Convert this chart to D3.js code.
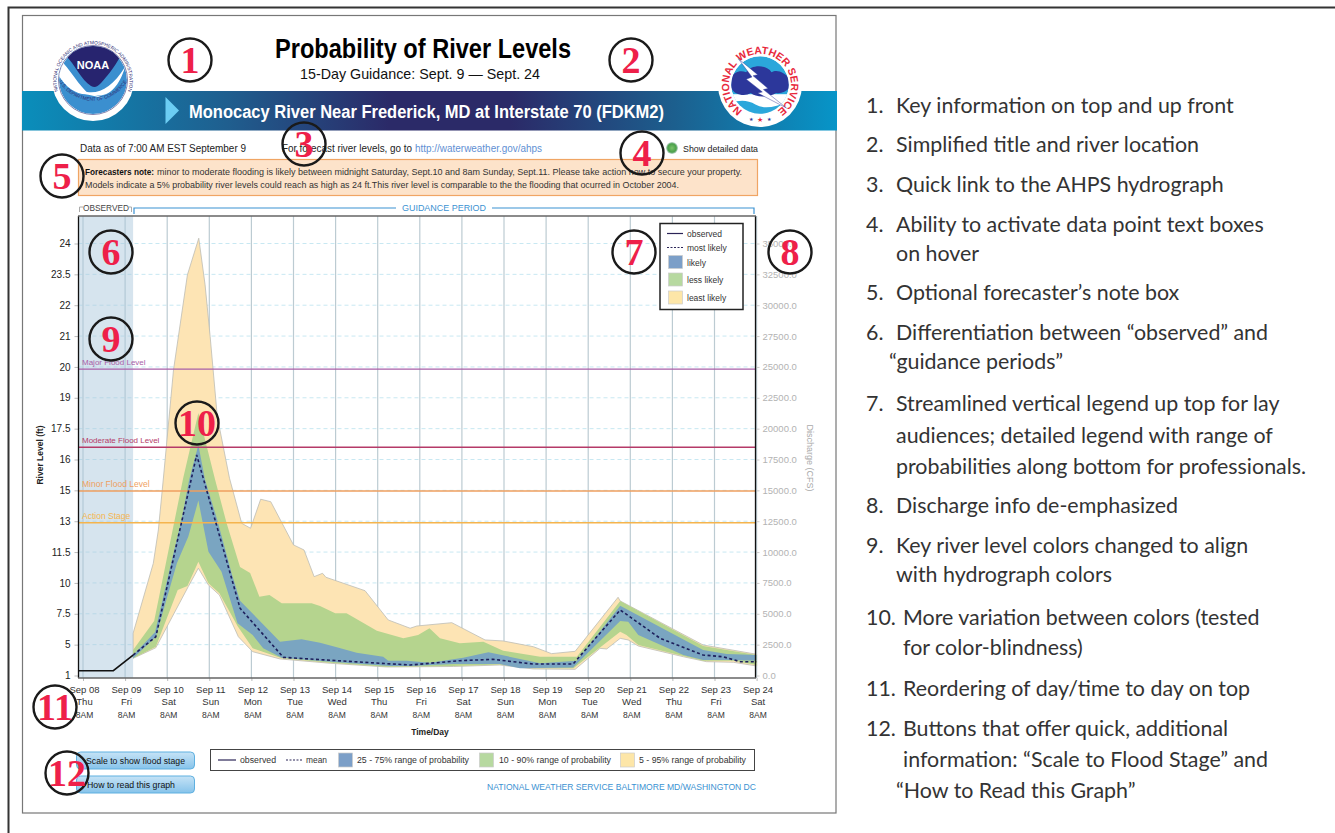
<!DOCTYPE html>
<html>
<head>
<meta charset="utf-8">
<script src="https://cdn.jsdelivr.net/npm/d3@7"></script>
<style>
  body { margin: 0; background: #fff; }
  text { font-family: "Liberation Sans", Arial, sans-serif; }
</style>
</head>
<body>
<div id="svg_div"></div>
<script>
// x values are days after Sep 08 8AM, y values are discharge in CFS
var dayLabels = ["Sep 08", "Sep 09", "Sep 10", "Sep 11", "Sep 12", "Sep 13", "Sep 14", "Sep 15", "Sep 16",
  "Sep 17", "Sep 18", "Sep 19", "Sep 20", "Sep 21", "Sep 22", "Sep 23", "Sep 24"];
var weekDays = ["Thu", "Fri", "Sat", "Sun", "Mon", "Tue", "Wed", "Thu", "Fri", "Sat", "Sun", "Mon", "Tue", "Wed", "Thu", "Fri", "Sat"];
var cfsTicks = [0, 2500, 5000, 7500, 10000, 12500, 15000, 17500, 20000, 22500, 25000, 27500, 30000, 32500, 35000];
var levelLabels = ["1", "5", "7.5", "10", "11.5", "13", "15", "16", "17.5", "19", "20", "21", "22", "23.5", "24"];

var observed = [[-0.11, 390], [0.72, 390], [1.19, 1660]];
var mean = [[1.19, 1660], [1.73, 3140], [2.70, 17870], [3.73, 5450], [4.76, 1470], [6.82, 1040], [7.77, 850],
  [8.95, 1200], [9.74, 1310], [10.69, 930], [11.64, 930], [12.76, 5310], [13.71, 3010], [14.73, 1660],
  [15.20, 1520], [15.61, 1120], [16, 1120]];
var p95 = [[1.19, 3420], [1.67, 9090], [1.79, 11790], [1.91, 16000], [2.15, 24760], [2.48, 32460], [2.75, 35430],
  [2.90, 31650], [3.02, 27460], [3.19, 20970], [3.48, 15980], [3.77, 12330], [3.98, 11930], [4.22, 14280],
  [4.46, 14080], [5.0, 10580], [5.25, 10170], [5.49, 8010], [5.69, 8280], [5.77, 7960], [6.70, 6870], [7.25, 4500],
  [7.77, 3830], [7.93, 4010], [8.76, 4280], [9.55, 2880], [9.98, 2800], [10.70, 2330], [11.13, 1770], [11.69, 1960],
  [12.71, 6340], [12.76, 6040], [14.73, 2470], [16, 1720]];
var p90 = [[1.19, 2070], [1.69, 4420], [2.38, 16000], [2.74, 21270], [3.14, 15840], [3.41, 12360], [3.73, 8790],
  [3.97, 8310], [4.19, 6390], [4.43, 6520], [4.72, 5850], [5.43, 5850], [5.63, 5630], [5.99, 5040], [6.26, 5040],
  [6.98, 3630], [7.61, 3010], [7.96, 3280], [8.23, 3830], [8.48, 3010], [8.95, 2610], [9.51, 2740], [9.98, 2010],
  [10.86, 1520], [11.73, 1520], [12.76, 6040], [14.73, 2390], [16, 1660]];
var p75 = [[1.19, 1660], [1.71, 3500], [2.11, 9360], [2.34, 12600], [2.52, 15840], [2.74, 18680], [2.90, 15840],
  [3.19, 12600], [3.53, 8280], [3.73, 6060], [4.68, 2740], [5.19, 2930], [5.63, 2660], [6.03, 2290], [6.50, 1850],
  [7.13, 1520], [7.25, 1200], [7.69, 1200], [8.24, 1040], [9.03, 1440], [9.63, 1880], [10.86, 990], [11.73, 1200],
  [12.76, 5660], [14.73, 2070], [15.29, 1740], [16, 1660]];
var p25 = [[1.19, 1390], [1.73, 3140], [2.23, 9090], [2.50, 11250], [2.74, 14170], [2.98, 10030], [3.29, 8410],
  [3.67, 4230], [4.03, 3280], [4.28, 2200], [4.72, 1440], [5.87, 1120], [7.29, 770], [7.77, 770], [8.79, 930],
  [9.90, 930], [10.38, 580], [11.64, 650], [12.76, 4420], [12.95, 4360], [13.19, 3280], [14.26, 1660], [14.73, 1260],
  [15.37, 1260], [16, 1200]];
var p10 = [[1.19, 1390], [1.73, 2330], [2.25, 6930], [2.48, 7250], [2.74, 9220], [2.98, 7470], [3.24, 6660],
  [3.67, 4010], [4.03, 2200], [4.72, 1390], [5.87, 1040], [7.21, 710], [8.79, 770], [9.90, 890], [10.70, 580],
  [11.65, 580], [12.76, 3550], [12.91, 3280], [13.19, 2470], [14.26, 1580], [14.73, 1200], [15.45, 1200], [16, 850]];
var p5 = [[1.19, 1390], [1.73, 2250], [2.50, 7200], [2.74, 8690], [2.98, 7330], [3.24, 6520], [3.69, 3140],
  [4.03, 1930], [4.68, 1340], [5.87, 990], [7.21, 690], [8.80, 730], [9.90, 850], [10.70, 530], [11.69, 500],
  [12.28, 2200], [12.44, 2150], [12.76, 3010], [12.95, 2880], [13.19, 2390], [14.26, 1520], [14.81, 1120],
  [15.45, 1070], [16, 770]];

var floodNames = ["Major Flood Level", "Moderate Flood Level", "Minor Flood Level", "Action Stage"];
var floodCfs = [24820, 18490, 14950, 12380];
var floodColors = ["#a85fa8", "#b53a68", "#ef9f5f", "#f5b44d"];

var notes = [
  "Key information on top and up front",
  "Simplified title and river location",
  "Quick link to the AHPS hydrograph",
  "Ability to activate data point text boxes|on hover",
  "Optional forecaster\u2019s note box",
  "Differentiation between \u201cobserved\u201d and|\u201cguidance periods\u201d",
  "Streamlined vertical legend up top for lay|audiences; detailed legend with range of|probabilities along bottom for professionals.",
  "Discharge info de-emphasized",
  "Key river level colors changed to align|with hydrograph colors",
  "More variation between colors (tested|for color-blindness)",
  "Reordering of day/time to day on top",
  "Buttons that offer quick, additional|information: \u201cScale to Flood Stage\u201d and|\u201cHow to Read this Graph\u201d"
];
// first baseline of each note, the lines of a note are not evenly spaced in the original
var noteLineY = [[113], [152], [192], [232, 261], [300], [340, 369], [411, 443, 474], [513], [553, 582], [625, 655], [696], [736, 767, 798]];
var noteIndent = [[896], [896], [896], [896, 896], [896], [896, 889], [896, 896, 896], [896], [896, 896], [903, 903], [903], [903, 903, 896]];

var circled = [[190, 60, "1"], [631, 60, "2"], [304, 144, "3"], [642, 153, "4"], [62, 176, "5"], [111, 252, "6"],
  [634, 252, "7"], [790, 252, "8"], [111, 339, "9"], [197, 423, "10"], [55, 707, "11"], [67, 773, "12"]];

var COL_BLUE = "#7aa5c1", COL_GREEN = "#b5d48e", COL_YELLOW = "#fde4b4", LINK = "#3b92d2";

var plot = {left: 78.5, right: 755.5, top: 216, bottom: 678};
var x = d3.scaleLinear().domain([0, 16]).range([83, 756.6]);
var y = d3.scaleLinear().domain([0, 35000]).range([675.5, 243.5]);

var svg = d3.select("#svg_div").append("svg")
  .attr("width", 1335).attr("height", 833)
  .style("display", "block");
var defs = svg.append("defs");

function label(parent, px, py, str, size, fill, opts) {
  opts = opts || {};
  return parent.append("text").attr("x", px).attr("y", py)
    .attr("font-size", size).attr("fill", fill)
    .attr("font-weight", opts.bold ? "bold" : null)
    .attr("text-anchor", opts.anchor || null)
    .attr("textLength", opts.len || null)
    .attr("lengthAdjust", opts.len ? "spacingAndGlyphs" : null)
    .text(str);
}

// page frame
svg.append("path").attr("d", "M8.5,833V7.5H1335").attr("fill", "none").attr("stroke", "#333").attr("stroke-width", 2);
svg.append("rect").attr("x", 22.5).attr("y", 15.5).attr("width", 813.5).attr("height", 797.5)
  .attr("fill", "#fff").attr("stroke", "#777").attr("stroke-width", 1.2);

// banner
var grad = defs.append("linearGradient").attr("id", "bannerGrad");
grad.append("stop").attr("offset", "0%").attr("stop-color", "#0a8ebb");
grad.append("stop").attr("offset", "25%").attr("stop-color", "#1f5f8f");
grad.append("stop").attr("offset", "45%").attr("stop-color", "#2b2a68");
grad.append("stop").attr("offset", "60%").attr("stop-color", "#2b2a68");
grad.append("stop").attr("offset", "80%").attr("stop-color", "#1c5f8e");
grad.append("stop").attr("offset", "100%").attr("stop-color", "#0795c8");
svg.append("rect").attr("x", 22).attr("y", 91).attr("width", 815).attr("height", 39.5).attr("fill", "url(#bannerGrad)");
svg.append("path").attr("d", "M165.5,97L179,110.5L165.5,124Z").attr("fill", "#6ccdf3");

label(svg, 423, 58, "Probability of River Levels", 27, "#000", {bold: true, anchor: "middle", len: 296});
label(svg, 420, 79, "15-Day Guidance: Sept. 9 \u2014 Sept. 24", 15, "#111", {anchor: "middle", len: 240});
label(svg, 189, 118, "Monocacy River Near Frederick, MD at Interstate 70 (FDKM2)", 18, "#fff", {bold: true, len: 475});

// info line
label(svg, 80, 152, "Data as of 7:00 AM EST September 9", 10, "#222", {len: 166});
label(svg, 282, 152, "For forecast river levels, go to", 10, "#222", {len: 130});
label(svg, 415, 152, "http://waterweather.gov/ahps", 10, "#5f8fd3", {len: 127});
var dotGrad = defs.append("radialGradient").attr("id", "dotGrad");
dotGrad.append("stop").attr("offset", "0%").attr("stop-color", "#7cc36a");
dotGrad.append("stop").attr("offset", "70%").attr("stop-color", "#4aa04a");
dotGrad.append("stop").attr("offset", "100%").attr("stop-color", "#c5d8d5");
svg.append("circle").attr("cx", 672).attr("cy", 148).attr("r", 6).attr("fill", "url(#dotGrad)");
label(svg, 683, 152, "Show detailed data", 9, "#222", {len: 75});

// forecaster note
svg.append("rect").attr("x", 78.5).attr("y", 159.5).attr("width", 679).attr("height", 36)
  .attr("fill", "#fde3ca").attr("stroke", "#f0a564").attr("stroke-width", 1.2);
label(svg, 85, 175, "Forecasters note:", 9.5, "#111", {bold: true, len: 69});
label(svg, 157, 175, "minor to moderate flooding is likely between midnight Saturday, Sept.10 and 8am Sunday, Sept.11.  Please take action now to secure your property.", 9.5, "#333", {len: 585});
label(svg, 85, 188, "Models indicate a 5% probability river levels could reach as high as 24 ft.This river level is comparable to the the flooding that ocurred in October 2004.", 9.5, "#333", {len: 594});

// observed / guidance brackets
svg.append("path").attr("d", "M79.5,212V207H83M129,207H131.5V212").attr("fill", "none").attr("stroke", "#aaa");
label(svg, 83, 211, "OBSERVED", 8.5, "#444", {len: 46});
svg.append("path").attr("d", "M134,214V208H396M492,208H754V214").attr("fill", "none").attr("stroke", LINK).attr("stroke-width", 1.2);
label(svg, 402, 211, "GUIDANCE PERIOD", 8.5, LINK, {len: 84});

// grid
svg.append("g").selectAll("line").data(cfsTicks.slice(1)).join("line")
  .attr("x1", plot.left).attr("x2", plot.right)
  .attr("y1", function(d) { return y(d); }).attr("y2", function(d) { return y(d); })
  .attr("stroke", "#c8e8f2").attr("stroke-dasharray", "4,3");
svg.append("g").selectAll("line").data(dayLabels).join("line")
  .attr("x1", function(d, i) { return x(i); }).attr("x2", function(d, i) { return x(i); })
  .attr("y1", plot.top).attr("y2", plot.bottom)
  .attr("stroke", "#bccbd2").attr("stroke-width", 1.2);

// probability bands, upper edge then lower edge walked backwards
var line = d3.line().x(function(d) { return x(d[0]); }).y(function(d) { return y(d[1]); });
function band(upper, lower, fill, stroke) {
  svg.append("path").attr("d", line(upper.concat(lower.slice().reverse())) + "Z")
    .attr("fill", fill).attr("stroke", stroke || "none").attr("stroke-width", 0.8);
}
band(p95, p5, COL_YELLOW, "#bdbdb5");
band(p90, p10, COL_GREEN);
band(p75, p25, COL_BLUE);

// observed period shading
svg.append("rect").attr("x", plot.left).attr("y", plot.top)
  .attr("width", x(1.19) - plot.left).attr("height", plot.bottom - plot.top)
  .attr("fill", "#a9c6dc").attr("opacity", 0.48);

// flood levels
floodCfs.forEach(function(q, i) {
  svg.append("line").attr("x1", plot.left).attr("x2", plot.right).attr("y1", y(q)).attr("y2", y(q))
    .attr("stroke", floodColors[i]).attr("stroke-width", 1.4);
  label(svg, 82, y(q) - 4, floodNames[i], i < 2 ? 8 : 8.5, floodColors[i]);
});

svg.append("path").attr("d", line(mean)).attr("fill", "none").attr("stroke", "#1d1f5c")
  .attr("stroke-width", 1.6).attr("stroke-dasharray", "3,2.5");
svg.append("path").attr("d", line(observed)).attr("fill", "none").attr("stroke", "#111").attr("stroke-width", 1.6);

// axes
var leftAxis = d3.axisLeft(y).tickValues(cfsTicks).tickSize(4).tickPadding(4)
  .tickFormat(function(d, i) { return levelLabels[i]; });
var gl = svg.append("g").attr("transform", "translate(" + plot.left + ",0)").call(leftAxis);
gl.select(".domain").remove();
gl.selectAll("line").attr("stroke", "#bbb");
gl.selectAll("text").attr("font-size", 10).attr("font-family", "Liberation Sans").attr("fill", "#222");

var rightAxis = d3.axisRight(y).tickValues(cfsTicks).tickSize(4).tickPadding(3)
  .tickFormat(d3.format(".1f"));
var gr = svg.append("g").attr("transform", "translate(" + plot.right + ",0)").call(rightAxis);
gr.select(".domain").remove();
gr.selectAll("line").attr("stroke", "#ccc");
gr.selectAll("text").attr("font-size", 9.5).attr("font-family", "Liberation Sans").attr("fill", "#b3b3b3");

var bottomAxis = d3.axisBottom(x).tickValues(d3.range(dayLabels.length)).tickSize(3).tickPadding(5)
  .tickFormat(function(d) { return dayLabels[d]; });
var gb = svg.append("g").attr("transform", "translate(0," + plot.bottom + ")").call(bottomAxis);
gb.select(".domain").remove();
gb.selectAll("line").attr("stroke", "#bbb");
gb.selectAll("text").attr("font-size", 9.5).attr("font-family", "Liberation Sans").attr("fill", "#333").attr("dx", 1);
gb.selectAll(".tick").each(function(d) {
  var t = d3.select(this);
  label(t, 1, 27, weekDays[d], 9.5, "#333", {anchor: "middle"});
  label(t, 1, 39.5, "8AM", 8.5, "#333", {anchor: "middle"});
});

// plot frame
svg.append("path").attr("d", "M" + plot.left + "," + plot.top + "V" + plot.bottom + "M" + plot.right + "," + plot.top + "V" + plot.bottom)
  .attr("stroke", "#111").attr("stroke-width", 1.3);
svg.append("path").attr("d", "M" + (plot.left - 0.5) + "," + plot.top + "H" + (plot.right + 0.5) + "M" + (plot.left - 0.5) + "," + plot.bottom + "H" + (plot.right + 0.5))
  .attr("stroke", "#666").attr("stroke-width", 1.6);

label(svg, 430, 735, "Time/Day", 8.5, "#222", {bold: true, anchor: "middle"});
label(svg, 0, 0, "River Level (ft)", 8.5, "#222", {bold: true, anchor: "middle"})
  .attr("transform", "translate(43,455) rotate(-90)");
label(svg, 0, 0, "Discharge (CFS)", 9, "#aaa", {anchor: "middle"})
  .attr("transform", "translate(807,458) rotate(90)");

// legend inside the plot
svg.append("rect").attr("x", 660).attr("y", 223.5).attr("width", 83).attr("height", 86)
  .attr("fill", "#fff").attr("stroke", "#222").attr("stroke-width", 1.5);
svg.append("line").attr("x1", 667).attr("x2", 683).attr("y1", 233.5).attr("y2", 233.5).attr("stroke", "#2b2457").attr("stroke-width", 1.2);
svg.append("line").attr("x1", 667).attr("x2", 683).attr("y1", 247.5).attr("y2", 247.5).attr("stroke", "#2b2457").attr("stroke-width", 1.2).attr("stroke-dasharray", "2,1.5");
[["likely", "#7c9fc8", 255.5], ["less likely", "#b7d9a0", 273], ["least likely", "#fde6a8", 291]].forEach(function(r) {
  svg.append("rect").attr("x", 668.5).attr("y", r[2]).attr("width", 14).attr("height", 13).attr("fill", r[1]).attr("stroke", "#ccc").attr("stroke-width", 0.7);
  label(svg, 687, r[2] + 10, r[0], 8.5, "#333");
});
label(svg, 687, 236.5, "observed", 8.5, "#333");
label(svg, 687, 250.5, "most likely", 8.5, "#333");

// buttons
var btnGrad = defs.append("linearGradient").attr("id", "btnGrad").attr("x2", 0).attr("y2", 1);
btnGrad.append("stop").attr("offset", "0%").attr("stop-color", "#c6e3f6");
btnGrad.append("stop").attr("offset", "100%").attr("stop-color", "#86c3ea");
[[752, "Scale to show flood stage", 86, 99], [776, "How to read this graph", 87, 88]].forEach(function(b) {
  svg.append("rect").attr("x", 76.5).attr("y", b[0]).attr("width", 118).attr("height", 17).attr("rx", 4)
    .attr("fill", "url(#btnGrad)").attr("stroke", "#5fb0e0");
  label(svg, b[2], b[0] + 12, b[1], 8.5, "#111", {len: b[3]});
});

// bottom legend
svg.append("rect").attr("x", 210.5).attr("y", 749.5).attr("width", 544).attr("height", 21)
  .attr("fill", "#fff").attr("stroke", "#444");
svg.append("line").attr("x1", 218).attr("x2", 236).attr("y1", 760).attr("y2", 760).attr("stroke", "#2b2457").attr("stroke-width", 1.2);
label(svg, 240, 763, "observed", 8.5, "#333", {len: 36});
svg.append("line").attr("x1", 286).attr("x2", 303).attr("y1", 760).attr("y2", 760).attr("stroke", "#2b2457").attr("stroke-width", 1.2).attr("stroke-dasharray", "2,1.5");
label(svg, 306, 763, "mean", 8.5, "#333", {len: 21});
[[338.5, "#7c9fc8", "25 - 75% range of probability", 357, 112], [479.5, "#b7d9a0", "10 - 90% range of probability", 499, 112],
  [620.5, "#fde6a8", "5 - 95% range of probability", 639, 107]].forEach(function(r) {
  svg.append("rect").attr("x", r[0]).attr("y", 753).attr("width", 14).attr("height", 14).attr("fill", r[1]).attr("stroke", "#ccc").attr("stroke-width", 0.7);
  label(svg, r[3], 763, r[2], 8.5, "#333", {len: r[4]});
});
label(svg, 487, 790, "NATIONAL WEATHER SERVICE BALTIMORE MD/WASHINGTON DC", 9, LINK, {len: 269});

// NOAA logo
var noaa = svg.append("g").attr("transform", "translate(93,80)");
defs.append("clipPath").attr("id", "noaaClip").append("circle").attr("r", 34);
noaa.append("circle").attr("r", 41).attr("fill", "#fff");
noaa.append("circle").attr("r", 34.5).attr("fill", "#fff").attr("stroke", "#2b2a72").attr("stroke-width", 0.6);
var noaaIn = noaa.append("g").attr("clip-path", "url(#noaaClip)");
noaaIn.append("circle").attr("r", 34).attr("fill", "#3b8fcf");
noaaIn.append("path").attr("d", "M-36,-24C-24,-12 -14,6 -4,14C-16,16 -30,6 -36,-8Z").attr("fill", "#fff");
noaaIn.append("path").attr("d", "M-28,-25A37,37 0 0 1 28,-25C20,-10 14,-4 8,3C4,7 2,8 -2,6C-12,0 -18,-16 -28,-25Z").attr("fill", "#27246f");
noaaIn.append("path").attr("d", "M-6,12C8,14 20,6 32,-13C26,8 14,18 2,15L10,18L-8,14Z").attr("fill", "#fff");
label(noaa, 0, -11, "NOAA", 11, "#fff", {bold: true, anchor: "middle"});
defs.append("path").attr("id", "noaaTop").attr("d", "M-31,20A36.5,36.5 0 1 1 31,20");
defs.append("path").attr("id", "noaaBot").attr("d", "M-38,-8A39.5,39.5 0 0 0 38,-8");
noaa.append("text").attr("font-size", 4.8).attr("fill", "#2b2a72").append("textPath")
  .attr("href", "#noaaTop").attr("startOffset", "50%").attr("text-anchor", "middle")
  .text("NATIONAL OCEANIC AND ATMOSPHERIC ADMINISTRATION");
noaa.append("text").attr("font-size", 4.8).attr("fill", "#2b2a72").append("textPath")
  .attr("href", "#noaaBot").attr("startOffset", "50%").attr("text-anchor", "middle")
  .text("U.S. DEPARTMENT OF COMMERCE");

// NWS logo
var nws = svg.append("g").attr("transform", "translate(760,85)");
defs.append("clipPath").attr("id", "nwsClip").append("circle").attr("r", 25);
nws.append("circle").attr("r", 42).attr("fill", "#fff");
var nwsIn = nws.append("g").attr("transform", "scale(1.15)");
var nwsSky = nwsIn.append("g").attr("clip-path", "url(#nwsClip)");
nwsSky.append("circle").attr("r", 25).attr("fill", "#2ba7db");
nwsSky.append("rect").attr("x", -26).attr("y", 8).attr("width", 52).attr("height", 20).attr("fill", "#fff");
nwsSky.append("path").attr("d", "M-26,16Q-14,11 -4,17T26,14V27H-26Z").attr("fill", "#2ba7db");
nwsSky.append("path").attr("d", "M-26,-2C-26,-10 -18,-14 -12,-11C-8,-18 6,-18 10,-11C16,-15 26,-8 27,-2C27,4 20,8 14,7C8,11 -4,11 -8,7C-14,11 -26,8 -26,-2Z").attr("fill", "#2c379b");
nwsIn.append("path").attr("d", "M-19,-23L-2,-9L-6,-8L7,3L3,4L23,20L-2,7L2,6L-12,-5L-7,-7Z").attr("fill", "#fff").attr("stroke", "#2c379b").attr("stroke-width", 0.4);
defs.append("path").attr("id", "nwsArc").attr("d", "M-15.5,26.8A31,31 0 1 1 15.5,26.8");
nws.append("text").attr("font-size", 10.5).attr("font-weight", "bold").attr("fill", "#e8283c")
  .append("textPath")
  .attr("href", "#nwsArc").attr("startOffset", "50%").attr("text-anchor", "middle")
  .text("NATIONAL WEATHER SERVICE");
label(nws, -9, 36, "\u2605", 5, "#2c379b", {anchor: "middle"});
label(nws, 0, 37, "\u2605", 7, "#e8283c", {anchor: "middle"});
label(nws, 9, 36, "\u2605", 5, "#2c379b", {anchor: "middle"});

// numbered notes on the right
notes.forEach(function(n, i) {
  label(svg, 866, noteLineY[i][0], (i + 1) + ".", 21.4, "#333").style("font-family", "Lato");
  n.split("|").forEach(function(row, j) {
    label(svg, noteIndent[i][j], noteLineY[i][j], row, 21.4, "#333").style("font-family", "Lato");
  });
});

// red circled numbers
circled.forEach(function(c) {
  svg.append("circle").attr("cx", c[0]).attr("cy", c[1]).attr("r", 21.5)
    .attr("fill", "none").attr("stroke", "#1a1a1a").attr("stroke-width", 2.4);
  label(svg, c[0], c[1] + 13, c[2], 38, "#ee2049", {bold: true, anchor: "middle"})
    .style("font-family", "Liberation Serif");
});
</script>
</body>
</html>
